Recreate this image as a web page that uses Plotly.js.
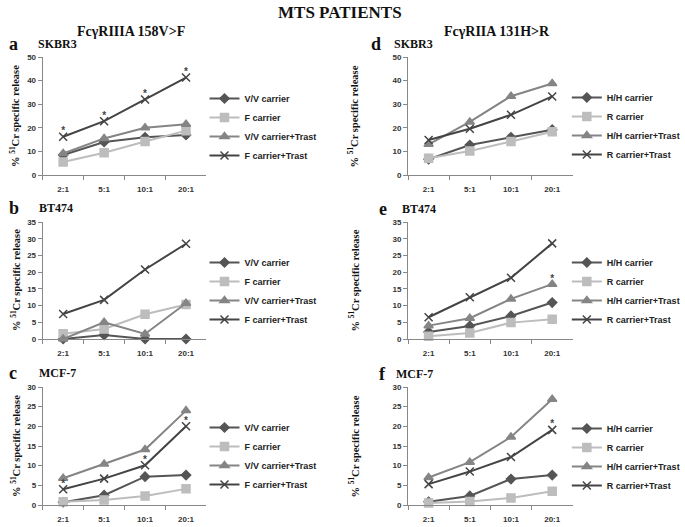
<!DOCTYPE html>
<html><head><meta charset="utf-8">
<script src="https://cdn.plot.ly/plotly-3.0.1.min.js"></script>
<style>html,body{margin:0;padding:0;background:#fff}</style>
</head><body><div id="chart" style="width:685px;height:527px"></div>
<script>
const ratios = ["2:1","5:1","10:1","20:1"];

// Panel a: SKBR3, FcγRIIIA 158V>F
const a_VV = [8.5, 14, 16, 17];
const a_F = [5.5, 9.4, 14.2, 18.8];
const a_VVT = [9.1, 15.5, 20, 21.5];
const a_FT = [16.2, 22.8, 32, 41.3];
const a_star = [1, 1, 1, 1]; // on F carrier+Trast

// Panel b: BT474, FcγRIIIA 158V>F
const b_VV = [0, 1.2, 0, 0];
const b_F = [1.6, 3, 7.4, 10.3];
const b_VVT = [0, 5, 1.5, 10.7];
const b_FT = [7.5, 11.7, 20.8, 28.5];

// Panel c: MCF-7, FcγRIIIA 158V>F
const c_VV = [0.7, 2.5, 7.2, 7.6];
const c_F = [0.8, 1.3, 2.3, 4.1];
const c_VVT = [6.8, 10.4, 14.1, 24];
const c_FT = [4, 6.7, 10.1, 20];
const c_star = [1, 0, 1, 1]; // on F carrier+Trast

// Panel d: SKBR3, FcγRIIA 131H>R
const d_HH = [6.7, 12.7, 16, 19.2];
const d_R = [7.1, 10.2, 14.2, 18.3];
const d_HHT = [13, 22.5, 33.4, 38.8];
const d_RT = [14.8, 19.6, 25.5, 33.3];

// Panel e: BT474, FcγRIIA 131H>R
const e_HH = [2.1, 3.9, 6.9, 10.9];
const e_R = [0.8, 1.8, 4.9, 5.9];
const e_HHT = [4, 6.2, 12, 16.4];
const e_RT = [6.5, 12.5, 18.3, 28.6];
const e_star = [0, 0, 0, 1]; // on H/H carrier+Trast

// Panel f: MCF-7, FcγRIIA 131H>R
const f_HH = [0.8, 2.3, 6.6, 7.6];
const f_R = [0.5, 0.9, 1.8, 3.5];
const f_HHT = [7, 10.9, 17.3, 26.9];
const f_RT = [5.3, 8.5, 12.2, 19.1];
const f_star = [0, 0, 0, 1]; // on R carrier+Trast

const leftNames = ["V/V carrier","F carrier","V/V carrier+Trast","F carrier+Trast"];
const rightNames = ["H/H carrier","R carrier","H/H carrier+Trast","R carrier+Trast"];
const yMax = [50, 35, 30];
const yStep = [10, 5, 5];

const W = 685, H = 527;
const px = v => v / W, py = v => 1 - v / H;

const styles = [
  {color:"#555555", symbol:"diamond", size:7, lw:2},
  {color:"#bdbdbd", symbol:"square", size:8, lw:2},
  {color:"#858585", symbol:"triangle-up", size:8, lw:2},
  {color:"#444444", symbol:"x-thin-open", size:8, lw:2}
];

const panels = [
  {series:[a_VV,a_F,a_VVT,a_FT], names:leftNames, row:0, col:0, star:a_star, starOn:3},
  {series:[b_VV,b_F,b_VVT,b_FT], names:leftNames, row:1, col:0},
  {series:[c_VV,c_F,c_VVT,c_FT], names:leftNames, row:2, col:0, star:c_star, starOn:3},
  {series:[d_HH,d_R,d_HHT,d_RT], names:rightNames, row:0, col:1},
  {series:[e_HH,e_R,e_HHT,e_RT], names:rightNames, row:1, col:1, star:e_star, starOn:2},
  {series:[f_HH,f_R,f_HHT,f_RT], names:rightNames, row:2, col:1, star:f_star, starOn:3}
];

const xDom = [[43,208],[411,577]];
const yDom = [[57,175],[222,339],[387,505]];
const legY = [[84,83],[248,248],[413,414]];
const legX = [206, 571];

const sans = "Liberation Sans Narrow, Liberation Sans, Arial, sans-serif";
const tickFont = {family:sans, size:8, color:"#333", weight:"bold"};
const legFont = {family:sans, size:9, color:"#222", weight:"bold"};

const data = [];
const layout = {
  width:W, height:H, margin:{l:0,r:0,t:0,b:0},
  paper_bgcolor:"#fff", plot_bgcolor:"#fff",
  showlegend:true, annotations:[], font:tickFont
};

panels.forEach((p, i) => {
  const k = i + 1;
  const xa = k === 1 ? "x" : "x" + k, ya = k === 1 ? "y" : "y" + k;
  const lg = k === 1 ? "legend" : "legend" + k;
  p.series.forEach((s, j) => {
    const st = styles[j];
    data.push({
      type:"scatter", mode:"lines+markers", x:ratios, y:s, name:p.names[j],
      xaxis:xa, yaxis:ya, legend:lg,
      line:{color:st.color, width:st.lw},
      marker:{symbol:st.symbol, size:st.size, color:st.color, line:{color:st.color, width:1.5}},
      cliponaxis:false
    });
  });
  if (p.star) {
    const sx = [], sy = [];
    p.star.forEach((f, j) => { if (f) { sx.push(ratios[j]); sy.push(p.series[p.starOn][j]); } });
    data.push({type:"scatter", mode:"text", x:sx, y:sy, text:sx.map(()=>"*"),
      textposition:"top center", textfont:{family:sans, size:10, color:"#444444"},
      marker:{color:"#444444"},
      xaxis:xa, yaxis:ya, showlegend:false, hoverinfo:"skip", cliponaxis:false});
  }
  const xd = xDom[p.col], yd = yDom[p.row];
  layout["xaxis" + (k === 1 ? "" : k)] = {
    domain:[px(xd[0]), px(xd[1])], anchor:ya, type:"category",
    range:[-0.5, 3.5], tickson:"boundaries", ticks:"outside", ticklen:4,
    tickcolor:"#888", showline:true, linecolor:"#888", linewidth:1,
    showgrid:false, zeroline:false, tickfont:tickFont, ticklabelstandoff:6, fixedrange:true
  };
  layout["yaxis" + (k === 1 ? "" : k)] = {
    domain:[py(yd[1]), py(yd[0])], anchor:xa, range:[0, yMax[p.row]],
    dtick:yStep[p.row], ticks:"outside", ticklen:4, tickcolor:"#888",
    showline:true, linecolor:"#888", linewidth:1, showgrid:false,
    zeroline:false, tickfont:tickFont, fixedrange:true
  };
  layout[lg] = {
    x:px(legX[p.col]), y:py(legY[p.row][p.col]), xanchor:"left", yanchor:"top",
    bgcolor:"rgba(0,0,0,0)", font:legFont, tracegroupgap:0, itemwidth:30
  };
});

const serif = "Liberation Serif, Times New Roman, serif";
function ann(text, x, y, size, extra) {
  layout.annotations.push(Object.assign({
    text:text, xref:"paper", yref:"paper", x:px(x), y:py(y),
    showarrow:false, font:{family:serif, size:size, color:"#111"},
    xanchor:"left", yanchor:"middle"
  }, extra || {}));
}
ann("<b>MTS PATIENTS</b>", 342, 13, 17, {xanchor:"center"});
ann("<b>FcγRIIIA 158V>F</b>", 132, 32, 14, {xanchor:"center"});
ann("<b>FcγRIIA 131H>R</b>", 501, 32, 14, {xanchor:"center"});
const letters = [["a",7,44,"SKBR3",36],["b",7,208,"BT474",37],["c",7,373,"MCF-7",37],
                 ["d",372,44,"SKBR3",395],["e",380,209,"BT474",403],["f",380,374,"MCF-7",397]];
letters.forEach(l => {
  ann("<b>" + l[0] + "</b>", l[1], l[2], 18);
  ann("<b>" + l[3] + "</b>", l[4], l[2], 12);
});
const yt = "<b>% <sup>51</sup>Cr specific release</b>";
[[15,116],[15,280],[15,446],[356,116],[356,280],[356,446]].forEach(p => {
  ann(yt, p[0], p[1], 10.5, {textangle:-90, xanchor:"center", yanchor:"middle"});
});

Plotly.newPlot("chart", data, layout, {displayModeBar:false, staticPlot:true});
</script></body></html>
